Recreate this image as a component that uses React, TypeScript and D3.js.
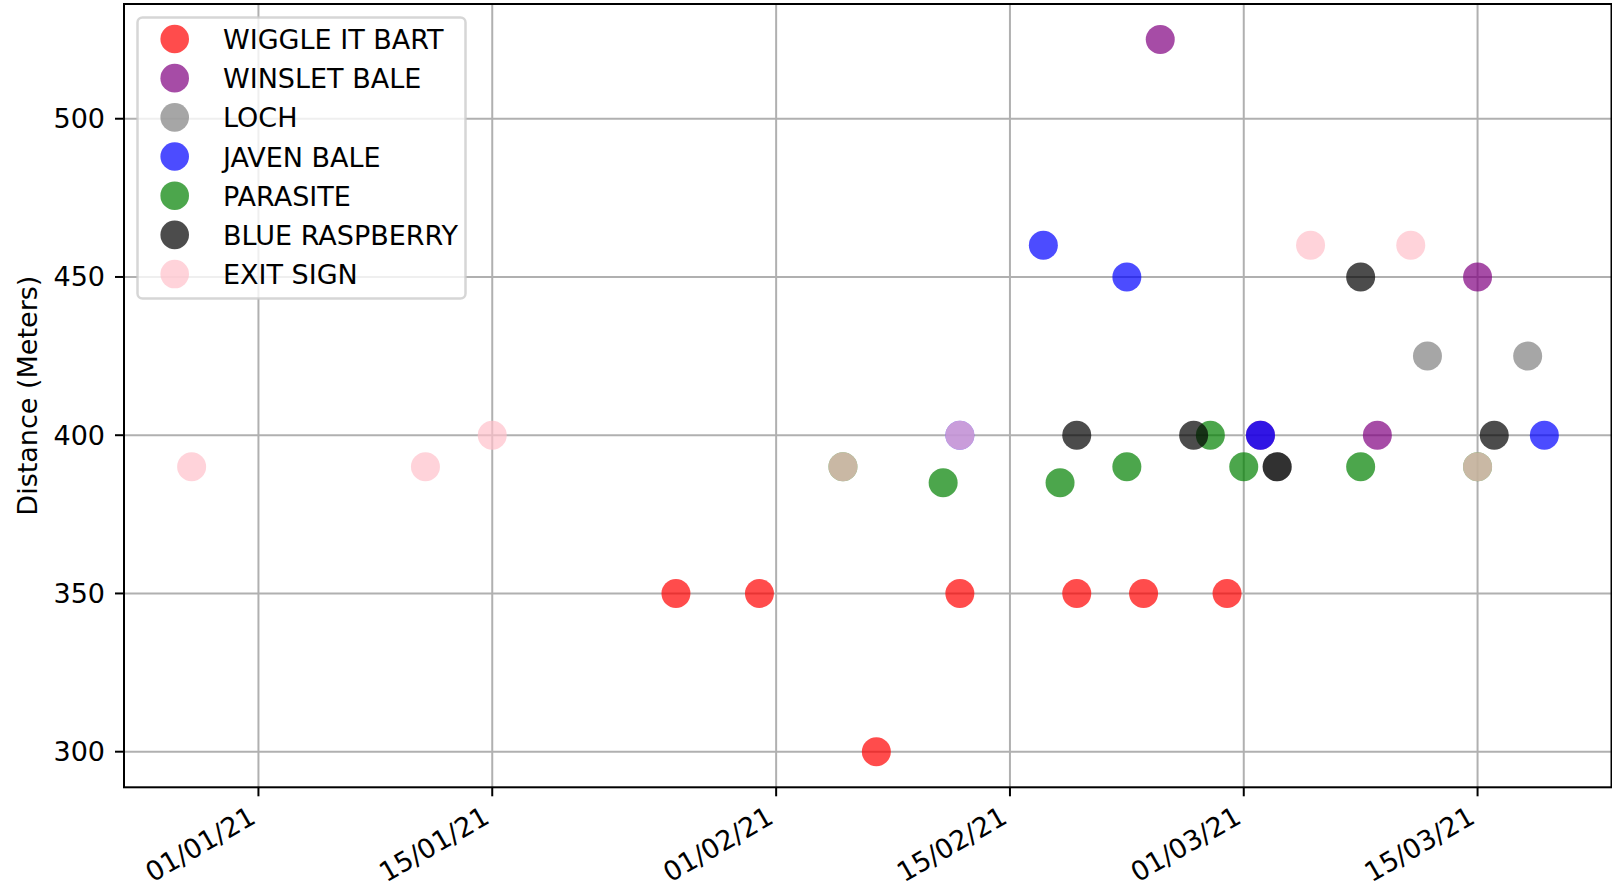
import React from "react";
import * as d3 from "d3";

const seriesNames = ["WIGGLE IT BART", "WINSLET BALE", "LOCH", "JAVEN BALE", "PARASITE", "BLUE RASPBERRY", "EXIT SIGN"];
const seriesColors = ["red", "purple", "grey", "blue", "green", "black", "pink"];

const wiggleDates = ["2021-01-26", "2021-01-31", "2021-02-07", "2021-02-12", "2021-02-19", "2021-02-23", "2021-02-28"];
const wiggleValues = [350, 350, 300, 350, 350, 350, 350];

const winsletDates = ["2021-02-24", "2021-03-02", "2021-03-09", "2021-03-15"];
const winsletValues = [525, 400, 400, 450];

const lochDates = ["2021-03-03", "2021-03-12", "2021-03-18"];
const lochValues = [390, 425, 425];

const javenDates = ["2021-02-12", "2021-02-17", "2021-02-22", "2021-03-02", "2021-03-19"];
const javenValues = [400, 460, 450, 400, 400];

const parasiteDates = ["2021-02-05", "2021-02-11", "2021-02-18", "2021-02-22", "2021-02-27", "2021-03-01", "2021-03-08", "2021-03-15"];
const parasiteValues = [390, 385, 385, 390, 400, 390, 390, 390];

const raspberryDates = ["2021-02-19", "2021-02-26", "2021-03-03", "2021-03-08", "2021-03-16"];
const raspberryValues = [400, 400, 390, 450, 400];

const exitDates = ["2020-12-28", "2021-01-11", "2021-01-15", "2021-02-05", "2021-02-12", "2021-03-05", "2021-03-11", "2021-03-15"];
const exitValues = [390, 390, 400, 390, 400, 460, 460, 390];

const xTickDates = ["2021-01-01", "2021-01-15", "2021-02-01", "2021-02-15", "2021-03-01", "2021-03-15"];
const yTicks = [300, 350, 400, 450, 500];
const yLabel = "Distance (Meters)";

const parse = d3.utcParse("%Y-%m-%d");
const fmt = d3.utcFormat("%d/%m/%y");

const seriesDates = [wiggleDates, winsletDates, lochDates, javenDates, parasiteDates, raspberryDates, exitDates];
const seriesValues = [wiggleValues, winsletValues, lochValues, javenValues, parasiteValues, raspberryValues, exitValues];

const FONT = "'DejaVu Sans', sans-serif";

export default function App() {
  const left = 124, right = 1612, top = 4, bottom = 787.3;
  const allDates = seriesDates.flat().map((d) => parse(d)!.getTime());
  const allVals = seriesValues.flat();
  const xmin = d3.min(allDates)!, xmax = d3.max(allDates)!;
  const xm = (xmax - xmin) * 0.05;
  const ymin = d3.min(allVals)!, ymax = d3.max(allVals)!;
  const ym = (ymax - ymin) * 0.05;
  const x = d3.scaleUtc().domain([new Date(xmin - xm), new Date(xmax + xm)]).range([left, right]);
  const y = d3.scaleLinear().domain([ymin - ym, ymax + ym]).range([bottom, top]);
  const r = 14.5;
  const fs = 27;

  const legendX = 137.5, legendY = 17.5, legendW = 328, legendH = 281;

  return (
    <svg width={1612} height={888} style={{ position: "absolute", left: 0, top: 0, background: "#fff" }} fontFamily={FONT}>
      <rect x={0} y={0} width={1612} height={888} fill="#fff" />
      {/* grid */}
      {xTickDates.map((d) => (
        <line key={"gx" + d} x1={x(parse(d)!)} x2={x(parse(d)!)} y1={top} y2={bottom} stroke="#b0b0b0" strokeWidth={2} />
      ))}
      {yTicks.map((v) => (
        <line key={"gy" + v} x1={left} x2={right} y1={y(v)} y2={y(v)} stroke="#b0b0b0" strokeWidth={2} />
      ))}
      {/* points */}
      {seriesNames.map((name, si) => (
        <g key={name}>
          {seriesDates[si].map((d, i) => (
            <circle key={i} cx={x(parse(d)!)} cy={y(seriesValues[si][i])} r={r} fill={seriesColors[si]} fillOpacity={0.7} />
          ))}
        </g>
      ))}
      {/* spines */}
      <rect x={left} y={top} width={right - left - 0.5} height={bottom - top} fill="none" stroke="#000" strokeWidth={2} />
      {/* y ticks */}
      {yTicks.map((v) => (
        <g key={"yt" + v}>
          <line x1={left - 9} x2={left} y1={y(v)} y2={y(v)} stroke="#000" strokeWidth={2} />
          <text x={105} y={y(v) + 9.5} textAnchor="end" fontSize={fs} fill="#000">{v}</text>
        </g>
      ))}
      {/* x ticks */}
      {xTickDates.map((d) => {
        const px = x(parse(d)!);
        return (
          <g key={"xt" + d}>
            <line x1={px} x2={px} y1={bottom} y2={bottom + 9} stroke="#000" strokeWidth={2} />
            <text transform={`translate(${px - 1},${822}) rotate(-30)`} textAnchor="end" fontSize={fs} fill="#000">{fmt(parse(d)!)}</text>
          </g>
        );
      })}
      {/* y label */}
      <text transform={`translate(37,${(top + bottom) / 2}) rotate(-90)`} textAnchor="middle" fontSize={fs} fill="#000">{yLabel}</text>
      {/* legend */}
      <rect x={legendX} y={legendY} width={legendW} height={legendH} rx={5} ry={5} fill="#fff" fillOpacity={0.8} stroke="#cccccc" strokeOpacity={0.8} strokeWidth={2.5} />
      {seriesNames.map((name, i) => {
        const cy = 39 + i * 39.17;
        return (
          <g key={"lg" + name}>
            <circle cx={174.7} cy={cy} r={14.3} fill={seriesColors[i]} fillOpacity={0.7} />
            <text x={223} y={cy + 10} fontSize={fs} fill="#000">{name}</text>
          </g>
        );
      })}
    </svg>
  );
}
